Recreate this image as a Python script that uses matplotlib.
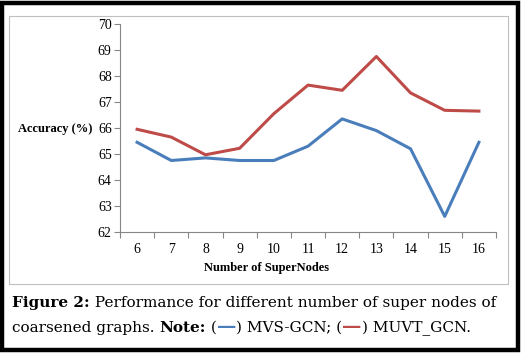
import matplotlib

matplotlib.use("Agg")
import matplotlib.pyplot as plt
from matplotlib.patches import Rectangle

supernodes = [6, 7, 8, 9, 10, 11, 12, 13, 14, 15, 16]
mvs_gcn = [65.45, 64.75, 64.85, 64.75, 64.75, 65.3, 66.35, 65.9, 65.2, 62.6, 65.45]
muvt_gcn = [65.95, 65.65, 64.97, 65.22, 66.55, 67.65, 67.45, 68.75, 67.35, 66.68, 66.65]
yticks = [62, 63, 64, 65, 66, 67, 68, 69, 70]

BLUE = "#4A7EBB"
RED = "#BE4B48"
GRID = "#868686"
W, H = 526, 355

fig = plt.figure(figsize=(W / 100, H / 100), dpi=100)
plt.rcParams["font.family"] = ["DejaVu Serif"]

# outer black border and inner grey chart frame
fig.patches.append(Rectangle((2 / W, 5 / H), 516 / W, 347 / H, transform=fig.transFigure,
                             fill=False, ec="black", lw=3.2))
fig.patches.append(Rectangle((9.5 / W, 1 - 284 / H), 498 / W, 268 / H, transform=fig.transFigure,
                             fill=False, ec="#BFBFBF", lw=0.8))

ax = fig.add_axes([120 / W, 1 - 232 / H, 376 / W, 208 / H])
x = list(range(len(supernodes)))
ax.plot(x, mvs_gcn, color=BLUE, lw=2.2, solid_joinstyle="round")
ax.plot(x, muvt_gcn, color=RED, lw=2.2, solid_joinstyle="round")

ax.set_xlim(-0.5, len(x) - 0.5)
ax.set_ylim(62, 70)
ax.set_yticks(yticks)
ax.set_yticklabels([str(v) for v in yticks], fontsize=10, family="Liberation Serif")
ax.set_xticks([i - 0.5 for i in range(len(x) + 1)])
ax.set_xticklabels([])
ax.set_xticks(x, minor=True)
ax.set_xticklabels([str(v) for v in supernodes], minor=True, fontsize=10, family="Liberation Serif")
ax.tick_params(axis="x", which="major", length=4, color=GRID, direction="out")
ax.tick_params(axis="x", which="minor", length=0, pad=8)
ax.tick_params(axis="y", length=4, color=GRID, direction="out", pad=2)
for s in ("top", "right"):
    ax.spines[s].set_visible(False)
for s in ("left", "bottom"):
    ax.spines[s].set_color(GRID)
    ax.spines[s].set_linewidth(0.8)

fig.text(55 / W, 1 - 129 / H, "Accuracy (%)", ha="center", va="center",
         fontsize=9, fontweight="bold", family="Liberation Serif")
fig.text(267 / W, 1 - 268 / H, "Number of SuperNodes", ha="center", va="center",
         fontsize=9, fontweight="bold", family="Liberation Serif")


def draw_segments(x0, y0, segments):
    # draw text pieces one after another on a line
    renderer = fig.canvas.get_renderer()
    xp = x0
    for txt, kw in segments:
        opts = {"fontsize": 11, "family": "DejaVu Serif"}
        opts.update(kw)
        t = fig.text(xp / W, 1 - y0 / H, txt, ha="left", va="baseline", **opts)
        bb = t.get_window_extent(renderer=renderer)
        xp += bb.width


draw_segments(12, 307, [("Figure 2", {"fontweight": "bold"}),
                        (":", {"fontweight": "bold"}),
                        (" Performance for different number of super nodes of", {})])
draw_segments(12, 332, [("coarsened graphs. ", {}),
                        ("Note:", {"fontweight": "bold"}),
                        (" (", {}),
                        ("\u2014", {"color": BLUE, "fontsize": 14, "fontweight": "bold"}),
                        (") MVS-GCN; (", {}),
                        ("\u2014", {"color": RED, "fontsize": 14, "fontweight": "bold"}),
                        (") MUVT_GCN.", {})])

fig.savefig("out.png", dpi=100)
